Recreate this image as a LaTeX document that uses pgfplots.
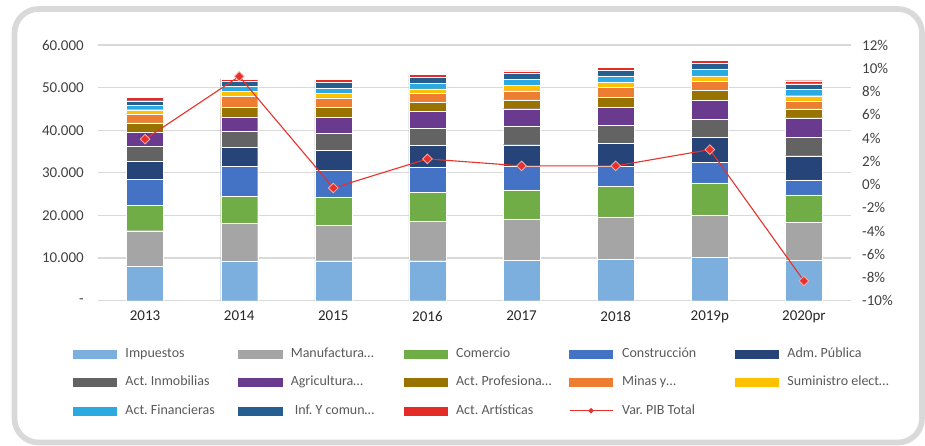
\documentclass[border=0pt]{standalone}
\usepackage{fontspec}
\setmainfont{Carlito}
\usepackage{pgfplots}
\usepackage{pgfplotstable}
\pgfplotsset{compat=1.18}
\frenchspacing

\definecolor{cImp}{HTML}{7CAFDD}
\definecolor{cMan}{HTML}{A5A5A5}
\definecolor{cCom}{HTML}{70AD47}
\definecolor{cCon}{HTML}{4472C4}
\definecolor{cAdm}{HTML}{264478}
\definecolor{cInm}{HTML}{636363}
\definecolor{cAgr}{HTML}{6A3A8E}
\definecolor{cPro}{HTML}{997300}
\definecolor{cMin}{HTML}{ED7D31}
\definecolor{cSum}{HTML}{FFC000}
\definecolor{cFin}{HTML}{2BA9E1}
\definecolor{cInf}{HTML}{255E91}
\definecolor{cArt}{HTML}{E42B26}
\definecolor{cLine}{HTML}{E8312B}
\definecolor{cGrid}{HTML}{D9D9D9}
\definecolor{cText}{HTML}{404040}

% PIB por actividad (miles de millones), apilado
\pgfplotstableread{
x imp man com con adm inm agr pro min sum fin inf art
0 8200 8220 5960 6100 4300 3520 3290 2180 2110 940 1100 1010 800
1 9320 8850 6340 7040 4370 3760 3450 2180 2700 1150 1200 1100 520
2 9390 8310 6640 6270 4600 4090 3660 2350 2280 1100 1170 1320 700
3 9390 9250 6810 5940 5000 4080 3900 2110 2110 1100 1340 1310 710
4 9550 9550 6880 5630 5000 4320 4130 2110 2110 1270 1320 1410 630
5 9720 9930 7210 4770 5330 4230 4230 2250 2440 1240 1410 1250 800
6 10190 9930 7510 4860 5780 4320 4370 2350 2210 1240 1640 1340 700
7 9550 8850 6410 3520 5700 4320 4600 2110 1810 1240 1500 1320 700
}\gdp

\newcommand{\lgd}[1]{\hspace{9pt}\makebox[113pt][l]{#1}}
\pgfplotsset{
  seg/.style={fill=#1, draw=white, line width=0.3pt,
    legend image code/.code={\fill[#1] (0pt,-4pt) rectangle (43pt,4pt);}},
  lineleg/.style={legend image code/.code={%
    \draw[cLine, line width=1pt] (0pt,0pt) -- (43pt,0pt);
    \fill[cLine] (19pt,0pt) -- (21.5pt,2.5pt) -- (24pt,0pt) -- (21.5pt,-2.5pt) -- cycle;}},
  frame/.style={scale only axis, width=753pt, height=255.7pt,
    at={(98pt,144.3pt)}, anchor=south west, xmin=-0.5, xmax=7.5,
    major tick length=0pt, tick style={draw=none}},
}

\begin{document}
\begin{tikzpicture}[x=1pt,y=1pt]
\useasboundingbox (0,0) rectangle (925,445);
\draw[cGrid, line width=5.7pt, rounded corners=24pt] (14.5,2.5) rectangle (922,436);

\begin{axis}[frame,
  ybar stacked, bar width=37pt,
  ymin=0, ymax=60000, scaled y ticks=false,
  ytick={0,10000,...,60000},
  yticklabels={-,10.000,20.000,30.000,40.000,50.000,60.000},
  xtick={0,...,7},
  xticklabels={2013,2014,2015,2016,2017,2018,2019p,2020pr},
  axis line style={draw=none},
  ymajorgrids, major grid style={cGrid, line width=1.2pt},
  yticklabel style={anchor=east, inner sep=0pt, xshift=-14pt, text=cText, font=\fontsize{15}{17}\selectfont},
  xticklabel style={anchor=north, inner sep=0pt, yshift=-10pt, text=black!85, font=\fontsize{15}{17}\selectfont},
  legend columns=5,
  legend cell align=left,
  legend style={at={(-0.0332,-0.181)}, anchor=north west, draw=none, fill=none,
    inner sep=0pt, row sep=15.5pt, text=black!65,
    font=\fontsize{14}{16}\selectfont,
    nodes={inner sep=0pt, text height=10pt, text depth=3pt}},
]
\addplot[seg=cImp] table[x=x,y=imp]{\gdp};
\addplot[seg=cMan] table[x=x,y=man]{\gdp};
\addplot[seg=cCom] table[x=x,y=com]{\gdp};
\addplot[seg=cCon] table[x=x,y=con]{\gdp};
\addplot[seg=cAdm] table[x=x,y=adm]{\gdp};
\addplot[seg=cInm] table[x=x,y=inm]{\gdp};
\addplot[seg=cAgr] table[x=x,y=agr]{\gdp};
\addplot[seg=cPro] table[x=x,y=pro]{\gdp};
\addplot[seg=cMin] table[x=x,y=min]{\gdp};
\addplot[seg=cSum] table[x=x,y=sum]{\gdp};
\addplot[seg=cFin] table[x=x,y=fin]{\gdp};
\addplot[seg=cInf] table[x=x,y=inf]{\gdp};
\addplot[seg=cArt] table[x=x,y=art]{\gdp};
\addlegendentry{\lgd{Impuestos}}
\addlegendentry{\lgd{Manufactura…}}
\addlegendentry{\lgd{Comercio}}
\addlegendentry{\lgd{Construcción}}
\addlegendentry{\lgd{Adm. Pública}}
\addlegendentry{\lgd{Act. Inmobilias}}
\addlegendentry{\lgd{Agricultura…}}
\addlegendentry{\lgd{Act. Profesiona…}}
\addlegendentry{\lgd{Minas y…}}
\addlegendentry{\lgd{Suministro elect…}}
\addlegendentry{\lgd{Act. Financieras}}
\addlegendentry{\lgd{\hspace{4pt}Inf. Y comun…}}
\addlegendentry{\lgd{Act. Artísticas}}
\addlegendimage{lineleg}
\addlegendentry{\lgd{Var. PIB Total}}
\end{axis}

\begin{axis}[frame,
  ymin=-10, ymax=12,
  axis x line=none, axis y line*=right,
  y axis line style={draw=none},
  ytick={-10,-8,...,12},
  yticklabels={-10\%,-8\%,-6\%,-4\%,-2\%,0\%,2\%,4\%,6\%,8\%,10\%,12\%},
  yticklabel style={anchor=west, inner sep=0pt, xshift=11pt, text=cText, font=\fontsize{15}{17}\selectfont},
]
\addplot[cLine, line width=1.1pt, mark=square*, mark size=3.4pt,
  mark options={rotate=45, fill=cLine, draw=cLine!40!white, line width=0.8pt}]
  coordinates {(0,3.9) (1,9.3) (2,-0.3) (3,2.2) (4,1.6) (5,1.6) (6,3.0) (7,-8.3)};
\end{axis}
\end{tikzpicture}
\end{document}
